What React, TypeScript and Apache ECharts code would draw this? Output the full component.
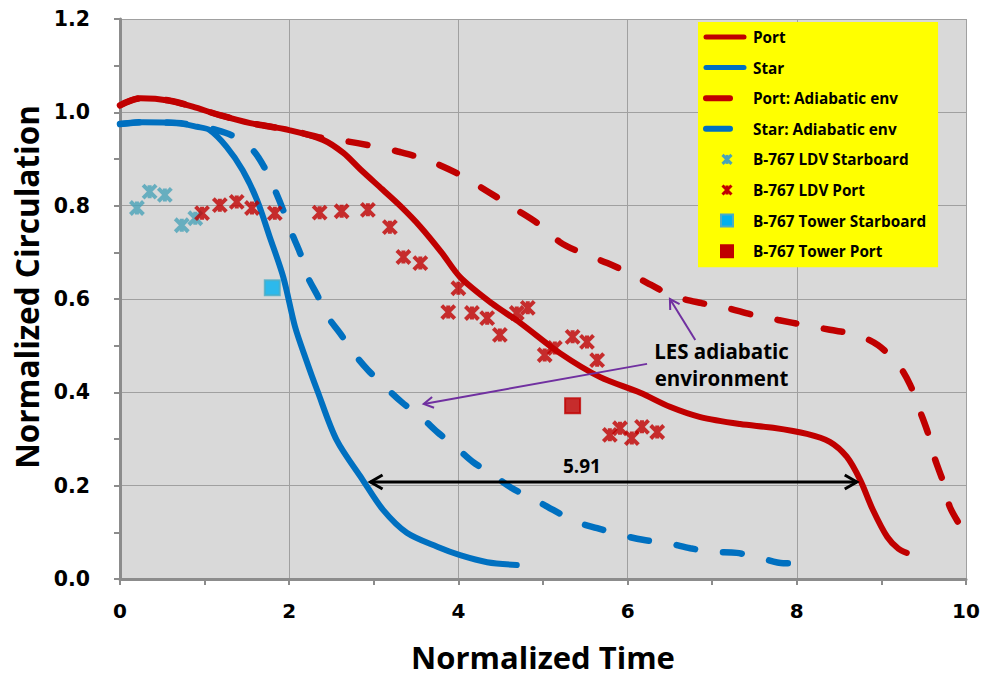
import { useEffect, useRef } from 'react';
import * as echarts from 'echarts';

// Port vortex, LES run
const portT = [0, 0.24, 0.59, 0.86, 1.18, 1.54, 2.0, 2.4, 2.64, 2.84, 3.1, 3.31, 3.55, 3.8, 4.02, 4.4, 4.73, 5.2, 5.67, 6.15, 6.5, 6.86, 7.33, 7.72, 8.12, 8.39, 8.59, 8.75, 8.9, 9.07, 9.2, 9.3];
const portC = [1.015, 1.03, 1.025, 1.012, 0.994, 0.977, 0.962, 0.941, 0.913, 0.878, 0.835, 0.8, 0.755, 0.7, 0.647, 0.59, 0.549, 0.484, 0.433, 0.399, 0.369, 0.347, 0.332, 0.324, 0.311, 0.294, 0.262, 0.212, 0.148, 0.09, 0.065, 0.056];

// Starboard vortex, LES run
const starT = [0, 0.27, 0.67, 0.91, 1.06, 1.26, 1.45, 1.62, 1.77, 1.93, 2.07, 2.2, 2.33, 2.56, 2.87, 3.11, 3.39, 3.75, 4.02, 4.34, 4.69];
const starC = [0.975, 0.979, 0.977, 0.969, 0.962, 0.926, 0.876, 0.812, 0.733, 0.647, 0.54, 0.47, 0.405, 0.298, 0.212, 0.148, 0.099, 0.069, 0.051, 0.036, 0.03];

// Port vortex, adiabatic environment
const portAdT = [0, 0.24, 0.59, 0.86, 1.18, 1.54, 2.0, 2.4, 2.68, 3.04, 3.31, 3.63, 4.0, 4.35, 4.69, 4.93, 5.2, 5.44, 5.76, 5.99, 6.3, 6.54, 6.88, 7.17, 7.48, 7.78, 8.1, 8.39, 8.71, 8.96, 9.2, 9.34, 9.46, 9.55, 9.63, 9.73, 9.81, 9.95];
const portAdC = [1.015, 1.03, 1.025, 1.012, 0.994, 0.977, 0.962, 0.945, 0.938, 0.926, 0.915, 0.898, 0.868, 0.83, 0.791, 0.763, 0.722, 0.7, 0.677, 0.658, 0.628, 0.606, 0.591, 0.581, 0.566, 0.555, 0.544, 0.534, 0.523, 0.501, 0.459, 0.416, 0.358, 0.313, 0.259, 0.208, 0.154, 0.109];

// Starboard vortex, adiabatic environment
const starAdT = [0, 0.27, 0.67, 0.91, 1.1, 1.34, 1.57, 1.71, 1.83, 1.93, 2.03, 2.13, 2.22, 2.33, 2.46, 2.6, 2.78, 2.93, 3.15, 3.33, 3.57, 3.75, 3.98, 4.17, 4.41, 4.63, 4.91, 5.12, 5.4, 5.64, 5.93, 6.18, 6.47, 6.74, 7.01, 7.29, 7.57, 7.84, 8.16];
const starAdC = [0.975, 0.979, 0.977, 0.972, 0.964, 0.949, 0.919, 0.881, 0.834, 0.79, 0.741, 0.698, 0.647, 0.609, 0.561, 0.527, 0.48, 0.448, 0.409, 0.379, 0.345, 0.315, 0.281, 0.251, 0.223, 0.195, 0.169, 0.148, 0.122, 0.109, 0.094, 0.084, 0.077, 0.066, 0.058, 0.056, 0.045, 0.034, 0.034];

// B-767 lidar measurements
const ldvStarT = [0.2, 0.35, 0.53, 0.73, 0.89];
const ldvStarC = [0.795, 0.83, 0.823, 0.758, 0.773];
const ldvPortT = [0.97, 1.18, 1.38, 1.56, 1.83, 2.36, 2.62, 2.93, 3.19, 3.35, 3.55, 3.88, 4.0, 4.16, 4.34, 4.49, 4.69, 4.82, 5.02, 5.14, 5.35, 5.52, 5.64, 5.79, 5.91, 6.05, 6.17, 6.35];
const ldvPortC = [0.784, 0.801, 0.808, 0.795, 0.784, 0.785, 0.788, 0.791, 0.754, 0.69, 0.677, 0.572, 0.623, 0.57, 0.559, 0.523, 0.57, 0.581, 0.48, 0.495, 0.519, 0.508, 0.469, 0.309, 0.323, 0.302, 0.326, 0.315];

// B-767 tower measurements
const towerStarT = [1.8];
const towerStarC = [0.624];
const towerPortT = [5.35];
const towerPortC = [0.371];

// Annotation anchors in data units
const spanArrow = [[2.96, 0.208], [8.71, 0.208]];
const spanLabel = '5.91';
const spanLabelAt = [5.46, 0.243];
const lesArrows = [
  [[6.23, 0.461], [3.59, 0.375]],
  [[6.8, 0.512], [6.5, 0.6]],
];
const lesLabel = 'LES adiabatic\nenvironment';
const lesLabelAt = [7.11, 0.459];

const xTicks = [0, 2, 4, 6, 8, 10];

const RED = '#c00000';
const BLUE = '#0070c0';
const TEAL = '#4aa3b8';
const PURPLE = '#7030a0';
const FONT = '"Open Sans", Lato, sans-serif';
const TICK_FONT = '"DejaVu Sans", "Open Sans", sans-serif';

const zip = (xs: number[], ys: number[]) => xs.map((x, i) => [x, ys[i]]);

const ASTERISK = 'path://M0,0L12,12M12,0L0,12M6,0L6,12';

// Legend box layout
const LG = { left: 698, top: 22, padT: 7, padB: 8, padL: 5, padR: 12, rowH: 16, gap: 14.6, iconW: 44 };

type Kind = 'line' | 'dash' | 'asterisk' | 'square';

export default function App() {
  const ref = useRef<HTMLDivElement>(null);

  useEffect(() => {
    const chart = echarts.init(ref.current!, null, { renderer: 'svg' });

    const lineSeries = (name: string, t: number[], c: number[], color: string, dashed: boolean) => ({
      name,
      type: 'line',
      data: zip(t, c),
      smooth: 0.3,
      symbol: 'none',
      showSymbol: false,
      lineStyle: dashed
        ? { color, width: 6.5, type: [19, 28], cap: 'round' }
        : { color, width: 6, cap: 'round' },
      itemStyle: { color },
      z: 2,
    });

    const starSeries = (name: string, t: number[], c: number[], color: string) => ({
      name,
      type: 'scatter',
      data: zip(t, c),
      symbol: ASTERISK,
      symbolSize: 13,
      itemStyle: { color: 'rgba(0,0,0,0)', borderColor: color, borderWidth: 4 },
      z: 3,
    });

    const squareSeries = (name: string, t: number[], c: number[], fill: string, border: string) => ({
      name,
      type: 'scatter',
      data: zip(t, c),
      symbol: 'rect',
      symbolSize: 15,
      itemStyle: { color: fill, borderColor: border, borderWidth: 2 },
      z: 3,
    });

    const legendItems: { name: string; kind: Kind; color: string; border?: string }[] = [
      { name: 'Port', kind: 'line', color: RED },
      { name: 'Star', kind: 'line', color: BLUE },
      { name: 'Port: Adiabatic env', kind: 'dash', color: RED },
      { name: 'Star: Adiabatic env', kind: 'dash', color: BLUE },
      { name: 'B-767 LDV Starboard', kind: 'asterisk', color: TEAL },
      { name: 'B-767 LDV Port', kind: 'asterisk', color: RED },
      { name: 'B-767 Tower Starboard', kind: 'square', color: '#00b0f0', border: '#4bacc6' },
      { name: 'B-767 Tower Port', kind: 'square', color: RED, border: RED },
    ];

    chart.setOption({
      animation: false,
      backgroundColor: '#ffffff',
      textStyle: { fontFamily: FONT },
      grid: {
        left: 120,
        top: 19,
        width: 846,
        height: 560,
        show: true,
        backgroundColor: '#d9d9d9',
        borderWidth: 0,
      },
      legend: {
        orient: 'vertical',
        left: LG.left,
        top: LG.top,
        backgroundColor: '#ffff00',
        padding: [LG.padT, LG.padR, LG.padB, LG.padL],
        itemGap: LG.gap,
        itemWidth: LG.iconW,
        itemHeight: 14,
        icon: 'rect',
        itemStyle: { opacity: 0 },
        lineStyle: { opacity: 0 },
        selectedMode: false,
        data: legendItems.map((d) => d.name),
        textStyle: { fontFamily: FONT, fontWeight: 'bold', fontSize: 15.3, color: '#000', lineHeight: LG.rowH },
      },
      xAxis: {
        type: 'value',
        min: 0,
        max: 10,
        interval: 2,
        name: 'Normalized Time',
        nameLocation: 'middle',
        nameGap: 62,
        nameTextStyle: { fontFamily: FONT, fontWeight: 'bold', fontSize: 31, color: '#000' },
        axisLine: { show: true, lineStyle: { color: '#8c8c8c', width: 3 } },
        axisTick: { show: true, length: 6, lineStyle: { color: '#8c8c8c', width: 2 } },
        minorTick: { show: true, splitNumber: 2, length: 6, lineStyle: { color: '#8c8c8c', width: 2 } },
        splitLine: { show: true, lineStyle: { color: '#a0a0a0', width: 1 } },
        axisLabel: {
          margin: 22,
          fontFamily: TICK_FONT,
          fontWeight: 'bold',
          fontSize: 20,
          color: '#000',
          formatter: (v: number) => (xTicks.includes(v) ? String(v) : ''),
        },
      },
      yAxis: {
        type: 'value',
        min: 0,
        max: 1.2,
        interval: 0.2,
        name: 'Normalized Circulation',
        nameLocation: 'middle',
        nameGap: 72,
        nameRotate: 90,
        nameTextStyle: {
          fontFamily: FONT,
          fontWeight: 'bold',
          fontSize: 31.5,
          color: '#000',
          padding: [0, 0, 0, 24],
        },
        axisLine: { show: true, lineStyle: { color: '#8c8c8c', width: 3 } },
        axisTick: { show: true, length: 6, lineStyle: { color: '#8c8c8c', width: 2 } },
        minorTick: { show: true, splitNumber: 2, length: 6, lineStyle: { color: '#8c8c8c', width: 2 } },
        splitLine: { show: true, lineStyle: { color: '#a0a0a0', width: 1 } },
        axisLabel: {
          margin: 30,
          fontFamily: TICK_FONT,
          fontWeight: 'bold',
          fontSize: 20.5,
          color: '#000',
          formatter: (v: number) => v.toFixed(1),
        },
      },
      series: [
        lineSeries('Port', portT, portC, RED, false),
        lineSeries('Star', starT, starC, BLUE, false),
        lineSeries('Port: Adiabatic env', portAdT, portAdC, RED, true),
        lineSeries('Star: Adiabatic env', starAdT, starAdC, BLUE, true),
        starSeries('B-767 LDV Starboard', ldvStarT, ldvStarC, TEAL),
        starSeries('B-767 LDV Port', ldvPortT, ldvPortC, RED),
        squareSeries('B-767 Tower Starboard', towerStarT, towerStarC, '#00b0f0', '#4bacc6'),
        squareSeries('B-767 Tower Port', towerPortT, towerPortC, RED, RED),
      ],
    });

    // Arrows and notes, placed through the grid's own coordinate system
    const toPx = (p: number[]) => chart.convertToPixel({ gridIndex: 0 }, p) as number[];
    const head = (tip: number[], from: number[], len: number) => {
      const ang = Math.atan2(from[1] - tip[1], from[0] - tip[0]);
      const a = Math.PI / 6;
      return [
        [tip[0] + len * Math.cos(ang + a), tip[1] + len * Math.sin(ang + a)],
        tip,
        [tip[0] + len * Math.cos(ang - a), tip[1] + len * Math.sin(ang - a)],
      ];
    };

    const graphics: any[] = [];
    const s0 = toPx(spanArrow[0]);
    const s1 = toPx(spanArrow[1]);
    const blackStyle = { stroke: '#000', lineWidth: 3, fill: null };
    graphics.push({ type: 'line', shape: { x1: s0[0], y1: s0[1], x2: s1[0], y2: s1[1] }, style: blackStyle, z: 10 });
    graphics.push({ type: 'polyline', shape: { points: head(s0, s1, 14) }, style: blackStyle, z: 10 });
    graphics.push({ type: 'polyline', shape: { points: head(s1, s0, 14) }, style: blackStyle, z: 10 });
    const sl = toPx(spanLabelAt);
    graphics.push({
      type: 'text',
      x: sl[0],
      y: sl[1],
      style: { text: spanLabel, fill: '#000', font: `bold 19px ${FONT}`, align: 'center', verticalAlign: 'middle' },
      z: 10,
    });

    const purpleStyle = { stroke: PURPLE, lineWidth: 2, fill: null };
    lesArrows.forEach(([from, to]) => {
      const a = toPx(from);
      const b = toPx(to);
      graphics.push({ type: 'line', shape: { x1: a[0], y1: a[1], x2: b[0], y2: b[1] }, style: purpleStyle, z: 10 });
      graphics.push({ type: 'polyline', shape: { points: head(b, a, 11) }, style: purpleStyle, z: 10 });
    });
    const ll = toPx(lesLabelAt);
    graphics.push({
      type: 'text',
      x: ll[0],
      y: ll[1],
      style: {
        text: lesLabel,
        fill: '#000',
        font: `bold 20.5px ${FONT}`,
        lineHeight: 27,
        align: 'center',
        verticalAlign: 'middle',
      },
      z: 10,
    });

    // Legend keys drawn in the legend's icon slots
    legendItems.forEach((d, i) => {
      const cy = LG.top + LG.padT + LG.rowH / 2 + i * (LG.rowH + LG.gap);
      const x0 = LG.left + LG.padL;
      if (d.kind === 'line' || d.kind === 'dash') {
        const len = d.kind === 'line' ? LG.iconW - 3 : 27;
        graphics.push({
          type: 'line',
          shape: { x1: x0 + 3, y1: cy, x2: x0 + len, y2: cy },
          style: { stroke: d.color, lineWidth: d.kind === 'line' ? 5 : 6, lineCap: 'round' },
          z: 20,
        });
      } else if (d.kind === 'asterisk') {
        const cx = x0 + 24;
        const r = 4.5;
        const st = { stroke: d.color, lineWidth: 3 };
        graphics.push({ type: 'line', shape: { x1: cx - r, y1: cy - r, x2: cx + r, y2: cy + r }, style: st, z: 20 });
        graphics.push({ type: 'line', shape: { x1: cx + r, y1: cy - r, x2: cx - r, y2: cy + r }, style: st, z: 20 });
        graphics.push({ type: 'line', shape: { x1: cx, y1: cy - r, x2: cx, y2: cy + r }, style: st, z: 20 });
      } else {
        const cx = x0 + 24;
        graphics.push({
          type: 'rect',
          shape: { x: cx - 6, y: cy - 6, width: 12, height: 12 },
          style: { fill: d.color, stroke: d.border, lineWidth: 2 },
          z: 20,
        });
      }
    });

    chart.setOption({ graphic: graphics });

    return () => chart.dispose();
  }, []);

  return <div ref={ref} style={{ position: 'fixed', left: 0, top: 0, width: 987, height: 678 }} />;
}
